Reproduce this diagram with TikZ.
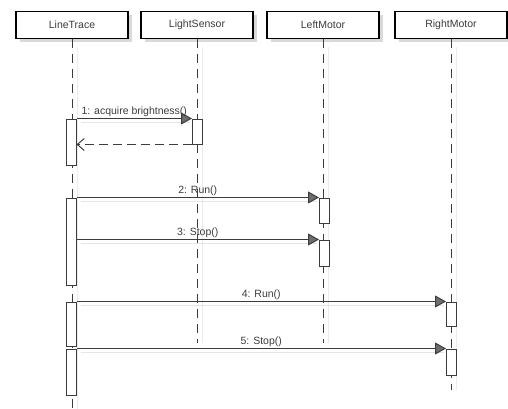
\documentclass[tikz,border=0pt]{standalone}
\usepackage{fontspec}
\setmainfont{Liberation Sans}
\usetikzlibrary{arrows.meta,shadows}
\definecolor{ln}{HTML}{3C3C3C}
\definecolor{tipfill}{HTML}{6E6E6E}
\begin{document}
\begin{tikzpicture}[x=1pt,y=-1pt,
 hdr/.style={draw=black,line width=1.6pt,fill=white,minimum width=112pt,minimum height=27pt,inner sep=0pt,
   font=\fontsize{10.5}{12}\selectfont,text=ln,
   drop shadow={shadow xshift=4pt,shadow yshift=-4pt,fill=black!15,opacity=1}},
 life/.style={draw=ln,line width=1pt,dash pattern=on 9pt off 6pt},
 lifeshd/.style={draw=black!8,line width=1pt},
 act/.style={draw=ln,line width=1pt,fill=white,minimum width=10pt,inner sep=0pt},
 msg/.style={draw=ln,line width=1pt,-{Triangle[length=11pt,width=12pt,fill=tipfill]}},
 ret/.style={draw=ln,line width=1pt,dash pattern=on 9pt off 5pt,-{Straight Barb[length=7pt,width=12pt]}},
 lbl/.style={font=\fontsize{10.5}{12}\selectfont,text=ln,inner sep=1pt,anchor=south},
 shd/.style={draw=black!10,line width=1pt}]
\useasboundingbox (0,0) rectangle (508,409);
% headers
\node[hdr] (lt) at (72,25) {LineTrace};
\node[hdr] (ls) at (197,25) {LightSensor};
\node[hdr] (lm) at (323,25) {LeftMotor};
\node[hdr] (rm) at (451,25) {RightMotor};
% lifeline ends
\coordinate (ltend) at (72,409);
\coordinate (lsend) at (197,343);
\coordinate (lmend) at (323,343);
\coordinate (rmend) at (451,390);
% lifeline shadows
\draw[lifeshd] ([xshift=5pt,yshift=-8pt]lt.south) -- ([xshift=5pt]ltend);
\draw[lifeshd] ([xshift=5pt,yshift=-8pt]ls.south) -- ([xshift=5pt]lsend);
\draw[lifeshd] ([xshift=5pt,yshift=-8pt]lm.south) -- ([xshift=5pt]lmend);
\draw[lifeshd] ([xshift=5pt,yshift=-8pt]rm.south) -- ([xshift=5pt]rmend);
% lifelines
\draw[life] (lt.south) -- (ltend);
\draw[life] (ls.south) -- (lsend);
\draw[life] (lm.south) -- (lmend);
\draw[life] (rm.south) -- (rmend);
% activations
\node[act,minimum height=46pt] (a1) at (71,142) {};
\node[act,minimum height=87pt] (a2) at (71,241.5) {};
\node[act,minimum height=44pt] (a3) at (71,324) {};
\node[act,minimum height=46pt] (a4) at (71,372) {};
\node[act,minimum height=25pt] (s1) at (197.5,131.5) {};
\node[act,minimum height=25pt] (l1) at (324.5,210.5) {};
\node[act,minimum height=26pt] (l2) at (324.5,253) {};
\node[act,minimum height=24pt] (r1) at (451.5,314) {};
\node[act,minimum height=26pt] (r2) at (451.5,362) {};
% message shadows
\draw[shd] ([xshift=4pt,yshift=-4pt]a1.north east) -- ([xshift=-2pt,yshift=-4pt]s1.north west);
\draw[shd] ([xshift=4pt,yshift=-4pt]a2.north east) -- ([xshift=-2pt,yshift=-4pt]l1.north west);
\draw[shd] ([xshift=4pt,yshift=-4pt]a2.east |- l2.north west) -- ([xshift=-2pt,yshift=-4pt]l2.north west);
\draw[shd] ([xshift=4pt,yshift=-4pt]a3.north east) -- ([xshift=-2pt,yshift=-4pt]r1.north west);
\draw[shd] ([xshift=4pt,yshift=-4pt]a4.north east) -- ([xshift=-2pt,yshift=-4pt]r2.north west);
% messages
\draw[msg] (a1.north east) -- node[lbl] {1: acquire brightness()} (s1.north west);
\draw[ret] (s1.south west) -- (s1.south west -| a1.east);
\draw[msg] (a2.north east) -- node[lbl] {2: Run()} (l1.north west);
\draw[msg] (a2.east |- l2.north west) -- node[lbl] {3: Stop()} (l2.north west);
\draw[msg] (a3.north east) -- node[lbl] {4: Run()} (r1.north west);
\draw[msg] (a4.north east) -- node[lbl] {5: Stop()} (r2.north west);
\end{tikzpicture}
\end{document}
